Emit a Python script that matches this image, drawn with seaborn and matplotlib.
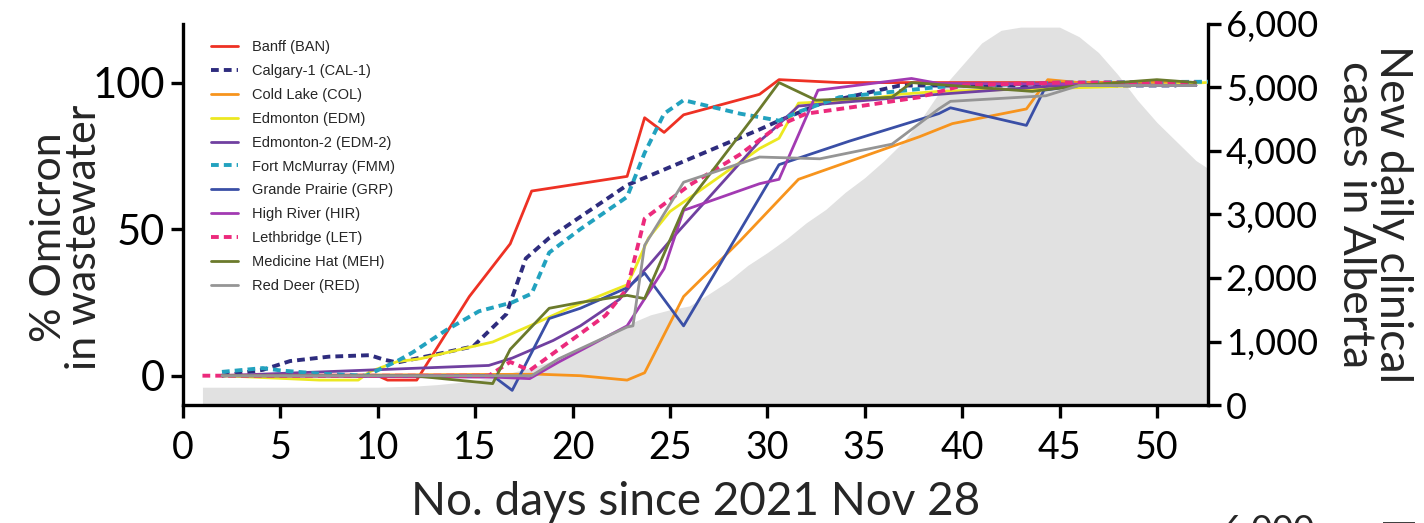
import pandas as pd
import matplotlib.pyplot as plt
import seaborn as sns
from matplotlib.ticker import StrMethodFormatter

# ---- data ----
sites = ['Banff (BAN)', 'Calgary-1 (CAL-1)', 'Cold Lake (COL)', 'Edmonton (EDM)',
         'Edmonton-2 (EDM-2)', 'Fort McMurray (FMM)', 'Grande Prairie (GRP)',
         'High River (HIR)', 'Lethbridge (LET)', 'Medicine Hat (MEH)', 'Red Deer (RED)']

ban_days = [2, 10, 10.5, 12, 14.7, 16.8, 17.9, 22.8, 23.7, 24.7, 25.7, 29.6, 30.6, 33.7, 38, 45, 52]
ban_pct = [0, 0, -1.5, -1.5, 27, 45, 63, 68, 88, 83, 89, 96, 101, 100, 100, 100, 100]

cal_days = [2, 4.1, 5.5, 7.5, 9.6, 10.3, 11, 12.8, 14.9, 16.6, 17.6, 18.8, 22.8, 29.6, 30.6, 32.8, 36.8, 45, 51]
cal_pct = [0, 2, 5, 6.5, 7, 5.5, 4.5, 7, 10, 21, 40, 47, 65, 84, 87, 93, 99, 99, 99]

col_days = [2, 18.3, 20.4, 22.8, 23.7, 25.7, 28.6, 31.6, 37.8, 39.5, 43.3, 44.4, 46, 52]
col_pct = [0, 0.5, 0, -1.5, 1, 27, 46, 67, 81.5, 86, 91, 101, 100, 100]

edm_days = [2, 7, 9, 9.6, 11, 12.2, 14.9, 15.9, 17.8, 19.8, 22.8, 23.2, 23.9, 25, 26.5,
            29.6, 30.6, 31.6, 34.7, 36.8, 38.8, 47.2, 52.5]
edm_pct = [0, -1.5, -1.5, 1.4, 4.8, 5.8, 10, 11.5, 17, 23, 31, 36.5, 47, 56, 63,
           77.5, 81, 93, 94, 96, 97, 98.5, 100]

edm2_days = [2, 15.7, 16.9, 19, 20.4, 22.4, 23.2, 23.9, 25, 29.6, 30.3, 31.6, 38.8, 45, 52]
edm2_pct = [0, 3.5, 6, 12, 17, 26, 32.5, 37.5, 46, 80, 84, 92, 96, 99, 99]

fmm_days = [2, 4.1, 5, 7, 9.4, 11, 11.8, 13.5, 15.2, 16.9, 17.9, 18.8, 20.4, 22.8, 23.7,
            24.7, 25.7, 28.6, 30.6, 31.6, 33.7, 38.8, 45, 53]
fmm_pct = [1.3, 2.6, 1.8, 0.7, 0, 5, 8, 15.5, 22, 25, 28, 42, 50, 61, 76,
           89.4, 94, 89.4, 87, 90, 95, 98.5, 100, 100.3]

grp_days = [2, 15.9, 16.9, 18.8, 20.4, 22.8, 23.7, 25.7, 30.6, 34.2, 38.8, 39.4, 43.3, 44.2, 46, 52]
grp_pct = [0, 0, -5, 19.5, 23, 30, 35, 17, 72, 80, 89.4, 91.4, 85.4, 97.4, 99, 99]

hir_days = [2, 16, 17.8, 19.3, 22.8, 24.7, 25.7, 29.6, 30.6, 32.6, 37.4, 38.8, 45, 52]
hir_pct = [0, -0.5, -1, 4.7, 17, 36.5, 56.4, 65.5, 67, 97.4, 101.4, 99.7, 99.5, 99]

let_days = [1, 15.7, 16.8, 17.8, 21.7, 22.8, 23.7, 26, 28.6, 30.6, 32, 35.1, 37.8, 40, 45, 52]
let_pct = [0, 0, 4.7, 1.8, 20.6, 29.7, 53.6, 65, 75.5, 85.4, 89.4, 92.3, 95, 99, 100, 100]

meh_days = [2, 11.8, 15.9, 16.8, 18.8, 20.4, 22.8, 23.7, 25.7, 29.6, 30.6, 32.5, 36.4, 37.4, 43.6, 46, 50, 52]
meh_pct = [0, 0, -2.7, 9, 23, 25, 27.4, 26.3, 57, 91, 100, 94, 95, 100, 97, 99, 101, 100]

red_days = [2, 17.9, 19.3, 22.8, 23.1, 23.7, 25.7, 29.6, 32.7, 36.4, 38.8, 39.4, 44.3, 46, 52]
red_pct = [0, 0, 5.8, 16.6, 17, 44.5, 66, 74.6, 74, 79, 91, 93.6, 95.5, 99, 99]

# new daily clinical cases in Alberta (grey area, right axis)
case_days = list(range(1, 54))
case_counts = [280, 280, 280, 280, 280, 280, 280, 280, 280, 280, 290, 300, 320, 350, 390,
               440, 520, 600, 700, 820, 960, 1100, 1290, 1420, 1500, 1560, 1750, 1950,
               2200, 2400, 2620, 2870, 3080, 3350, 3580, 3850, 4150, 4550, 5000, 5350,
               5700, 5900, 5950, 5950, 5950, 5800, 5550, 5200, 4800, 4450, 4150, 3850, 3650]

site_days = [ban_days, cal_days, col_days, edm_days, edm2_days, fmm_days,
             grp_days, hir_days, let_days, meh_days, red_days]
site_pct = [ban_pct, cal_pct, col_pct, edm_pct, edm2_pct, fmm_pct,
            grp_pct, hir_pct, let_pct, meh_pct, red_pct]

colors = ['#ee3124', '#2e2c7e', '#f7941d', '#ece821', '#7040a0', '#22a2bf',
          '#3a4fa6', '#a23ab2', '#ec2a7c', '#6b7a2c', '#959595']
dashed = ['Calgary-1 (CAL-1)', 'Fort McMurray (FMM)', 'Lethbridge (LET)']

rows = []
for name, d, p in zip(sites, site_days, site_pct):
    for x, y in zip(d, p):
        rows.append((name, x, y))
df = pd.DataFrame(rows, columns=['site', 'day', 'pct'])

# ---- plot ----
sns.set_style('ticks')
plt.rcParams['font.family'] = ['Lato', 'DejaVu Sans']

fig = plt.figure(figsize=(14.24, 5.23), dpi=100)
ax = fig.add_axes([0.1285, 0.2256, 0.7195, 0.7286])
ax2 = ax.twinx()

ax2.fill_between(case_days, case_counts, color='#e1e1e1', lw=0)
ax2.set_ylim(0, 6000)

ax.set_zorder(ax2.get_zorder() + 1)
ax.patch.set_visible(False)

sns.lineplot(data=df, x='day', y='pct', hue='site', style='site',
             hue_order=sites, style_order=sites,
             palette=dict(zip(sites, colors)),
             dashes={s: ((2.0, 1.3) if s in dashed else '') for s in sites},
             estimator=None, sort=False, linewidth=2.0, ax=ax)

for line in ax.get_lines():
    if line.get_linestyle() not in ('-', 'solid'):
        line.set_linewidth(2.8)

ax.set_xlim(0, 52.6)
ax.set_ylim(-10, 120)
ax.set_xticks(range(0, 51, 5))
ax.set_yticks([0, 50, 100])
ax2.set_yticks(range(0, 6001, 1000))
ax2.yaxis.set_major_formatter(StrMethodFormatter('{x:,.0f}'))

for a in (ax, ax2):
    for side in ('left', 'right', 'bottom', 'top'):
        a.spines[side].set_linewidth(2.4)
        a.spines[side].set_color('black')
    a.spines['top'].set_visible(False)
ax.spines['right'].set_visible(False)
ax2.spines['left'].set_visible(False)
ax2.spines['bottom'].set_visible(False)

ax.tick_params(axis='both', width=2.4, length=9, colors='black')
ax2.tick_params(axis='y', width=2.4, length=9, colors='black', labelsize=26, pad=4)
ax.tick_params(axis='y', labelsize=30, pad=4)
ax.tick_params(axis='x', labelsize=27, pad=9)

ax.set_xlabel('No. days since 2021 Nov 28', fontsize=33, labelpad=11)
ax.set_ylabel('% Omicron\nin wastewater', fontsize=31, linespacing=0.9)
ax.yaxis.set_label_coords(-0.078, 0.44)
ax2.set_ylabel('New daily clinical\ncases in Alberta', fontsize=32,
               rotation=270, va='bottom', linespacing=0.88)
ax2.yaxis.set_label_coords(1.124, 0.5)

handles, labels = ax.get_legend_handles_labels()
ax.legend(handles, labels, loc='upper left', bbox_to_anchor=(0.027, 0.958),
          frameon=False, borderaxespad=0, borderpad=0,
          labelspacing=0.68, handlelength=1.9, handletextpad=0.95,
          prop={'family': 'Liberation Sans', 'size': 10.5})

# top of the next panel, cut off by the figure edge
fig.text(0.858, 0.017, '6,000', fontsize=26, va='top')
fig.text(0.979, 0.011, 'New daily clinical', fontsize=32, rotation=270,
         ha='center', va='top')

fig.savefig('out.png', dpi=100)
